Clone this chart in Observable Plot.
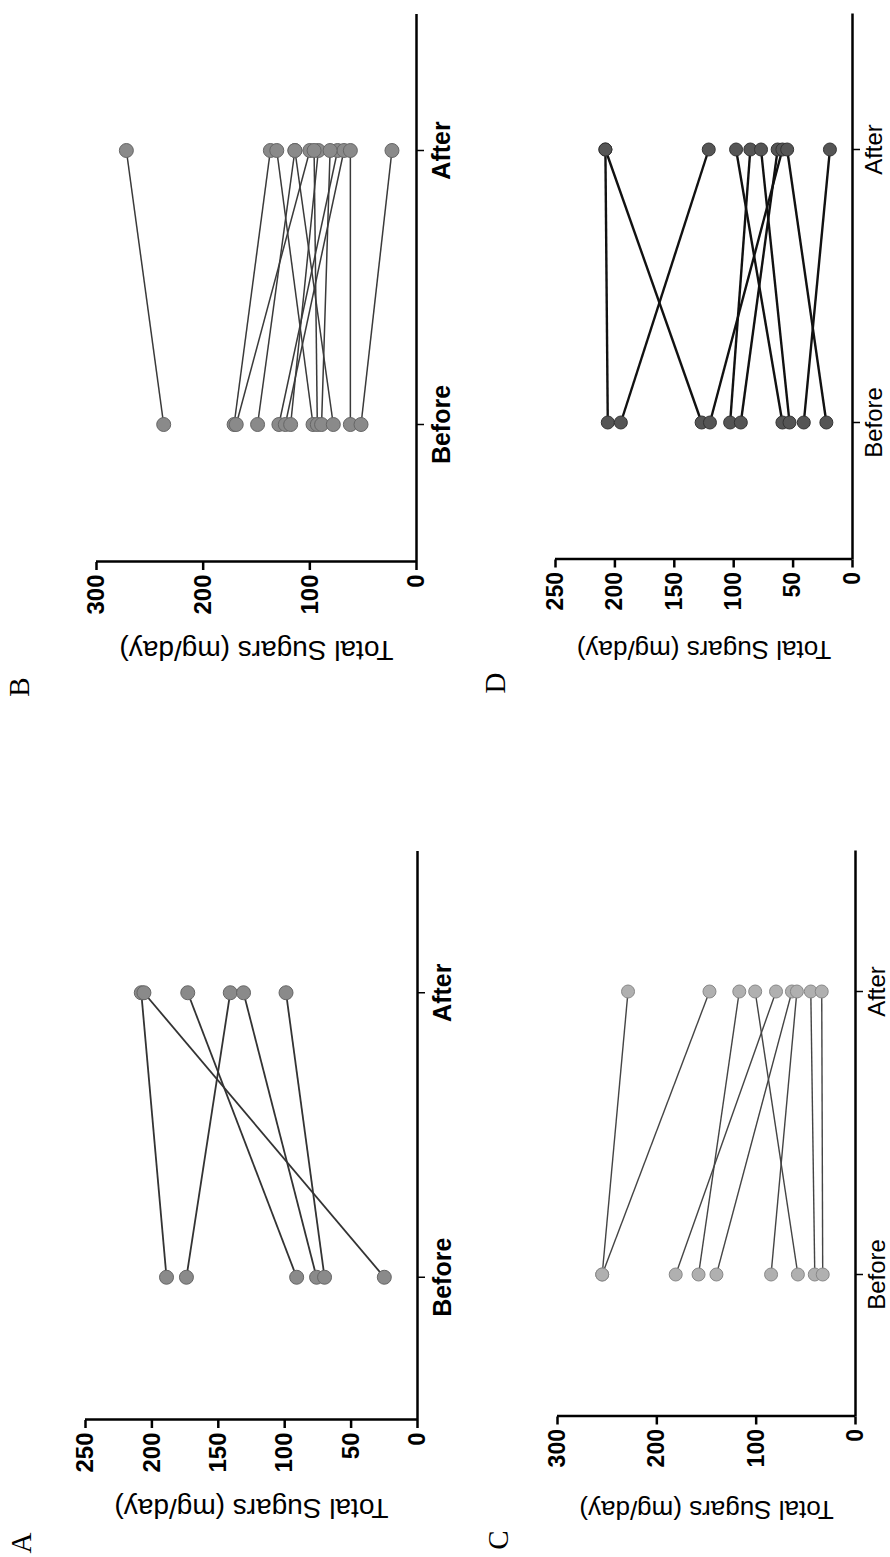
<!DOCTYPE html>
<html>
<head>
<meta charset="utf-8">
<script src="https://cdn.jsdelivr.net/npm/d3@7"></script>
<script src="https://cdn.jsdelivr.net/npm/@observablehq/plot@0.6"></script>
<style>
  html, body { margin: 0; padding: 0; width: 890px; height: 1557px; overflow: hidden; background: white; }
  #fig {
    position: absolute; left: 0; top: 0; width: 1557px; height: 890px;
    transform-origin: 0 0; transform: translate(0px, 1557px) rotate(-90deg);
    background: white;
  }
  .panel { position: absolute; }
  .panel svg { max-width: none; overflow: visible; }
  .letter {
    position: absolute; font-family: "Liberation Serif", "Times New Roman", serif;
    font-size: 29px; line-height: 1; transform: translate(-50%, -50%); color: #000;
  }
</style>
</head>
<body>
<div id="fig"></div>
<script>
// Paired before/after intakes, one pair per subject
const categories = ["Before", "After"];
const yTitle = "Total Sugars (mg/day)";

const beforeA = [189, 25, 91, 174, 76, 70];
const afterA  = [208, 206, 173, 141, 131, 99];

const beforeB = [237, 171, 169, 149, 129, 123, 118, 97, 93, 89, 78, 62, 52];
const afterB  = [272, 137, 100, 114, 74, 68, 92, 131, 96, 81, 114, 62, 23];

const beforeC = [255, 255, 158, 58, 181, 140, 85, 41, 33];
const afterC  = [229, 147, 117, 101, 80, 64, 59, 45, 34];

const beforeD = [206, 127, 195, 59, 103, 53, 94, 120, 22, 41];
const afterD  = [208, 208, 121, 98, 86, 77, 63, 59, 55, 19];

const ticksA = [0, 50, 100, 150, 200, 250];
const ticksB = [0, 100, 200, 300];
const ticksC = [0, 100, 200, 300];
const ticksD = [0, 50, 100, 150, 200, 250];

const fig = document.getElementById("fig");

function panel(cfg) {
  const pairs = cfg.before.map((b, i) => ({before: b, after: cfg.after[i]}));
  const pts = pairs.flatMap(p => [{pos: 0, value: p.before}, {pos: 1, value: p.after}]);
  const chart = Plot.plot({
    width: cfg.width, height: cfg.height,
    marginLeft: cfg.ml, marginRight: cfg.mr, marginTop: cfg.mt, marginBottom: cfg.mb,
    x: {type: "linear", domain: [-0.5, 1.5]},
    y: {domain: [0, cfg.yMax]},
    style: {background: "transparent", fontFamily: "'Liberation Sans', Arial, sans-serif", color: "#000", overflow: "visible"},
    marks: [
      Plot.axisY({ticks: cfg.ticks, tickSize: 8, tickPadding: 5, fontSize: cfg.tickFont,
                  fontWeight: "bold", strokeWidth: 2.5, label: null}),
      Plot.axisX({ticks: [0, 1], tickFormat: i => categories[i], tickSize: 8, tickPadding: cfg.catPad,
                  fontSize: cfg.catFont, fontWeight: cfg.catWeight, strokeWidth: 1.5, label: null}),
      Plot.ruleY([0], {strokeWidth: 2.5, stroke: "#000"}),
      Plot.ruleX([-0.5], {strokeWidth: 2.5, stroke: "#000"}),
      Plot.text([yTitle], {frameAnchor: "left", textAnchor: "middle", rotate: -90, dx: -cfg.titleOffset,
                           fontSize: cfg.titleFont, fill: "#000"}),
      Plot.link(pairs, {x1: () => 0, y1: "before", x2: () => 1, y2: "after",
                        stroke: cfg.lineColor, strokeWidth: cfg.lineWidth}),
      Plot.dot(pts, {x: "pos", y: "value", r: cfg.r, fill: cfg.dotFill, stroke: cfg.dotStroke, strokeWidth: 1})
    ]
  });
  const wrap = document.createElement("div");
  wrap.className = "panel";
  wrap.style.left = cfg.left + "px";
  wrap.style.top = cfg.top + "px";
  wrap.appendChild(chart);
  fig.appendChild(wrap);

  const letter = document.createElement("div");
  letter.className = "letter";
  letter.textContent = cfg.letter;
  letter.style.left = cfg.letterX + "px";
  letter.style.top = cfg.letterY + "px";
  fig.appendChild(letter);
}

panel({letter: "A", letterX: 14, letterY: 21, before: beforeA, after: afterA, yMax: 250, ticks: ticksA,
       left: 0, top: 0, width: 760, height: 470, ml: 137, mr: 54, mt: 85, mb: 53,
       tickFont: 24, catFont: 25, catPad: 8, catWeight: "bold", titleFont: 28, titleOffset: 88,
       lineColor: "#333", lineWidth: 1.8, r: 7, dotFill: "#8a8a8a", dotStroke: "#666"});

panel({letter: "B", letterX: 870, letterY: 19, before: beforeB, after: afterB, yMax: 300, ticks: ticksB,
       left: 860, top: 0, width: 697, height: 470, ml: 135, mr: 14, mt: 96, mb: 54,
       tickFont: 24, catFont: 25, catPad: 8, catWeight: "bold", titleFont: 28, titleOffset: 88,
       lineColor: "#3a3a3a", lineWidth: 1.5, r: 7, dotFill: "#8a8a8a", dotStroke: "#666"});

panel({letter: "C", letterX: 17, letterY: 498, before: beforeC, after: afterC, yMax: 300, ticks: ticksC,
       left: 0, top: 445, width: 760, height: 445, ml: 140.5, mr: 53.5, mt: 112, mb: 35,
       tickFont: 23, catFont: 24, catPad: 4, catWeight: "normal", titleFont: 26, titleOffset: 93,
       lineColor: "#444", lineWidth: 1.4, r: 6.5, dotFill: "#b0b0b0", dotStroke: "#888"});

panel({letter: "D", letterX: 874, letterY: 495, before: beforeD, after: afterD, yMax: 250, ticks: ticksD,
       left: 860, top: 445, width: 697, height: 445, ml: 137.5, mr: 13.5, mt: 110, mb: 38,
       tickFont: 23, catFont: 24, catPad: 4, catWeight: "normal", titleFont: 26, titleOffset: 90,
       lineColor: "#111", lineWidth: 2.4, r: 6.5, dotFill: "#555", dotStroke: "#333"});
</script>
</body>
</html>
